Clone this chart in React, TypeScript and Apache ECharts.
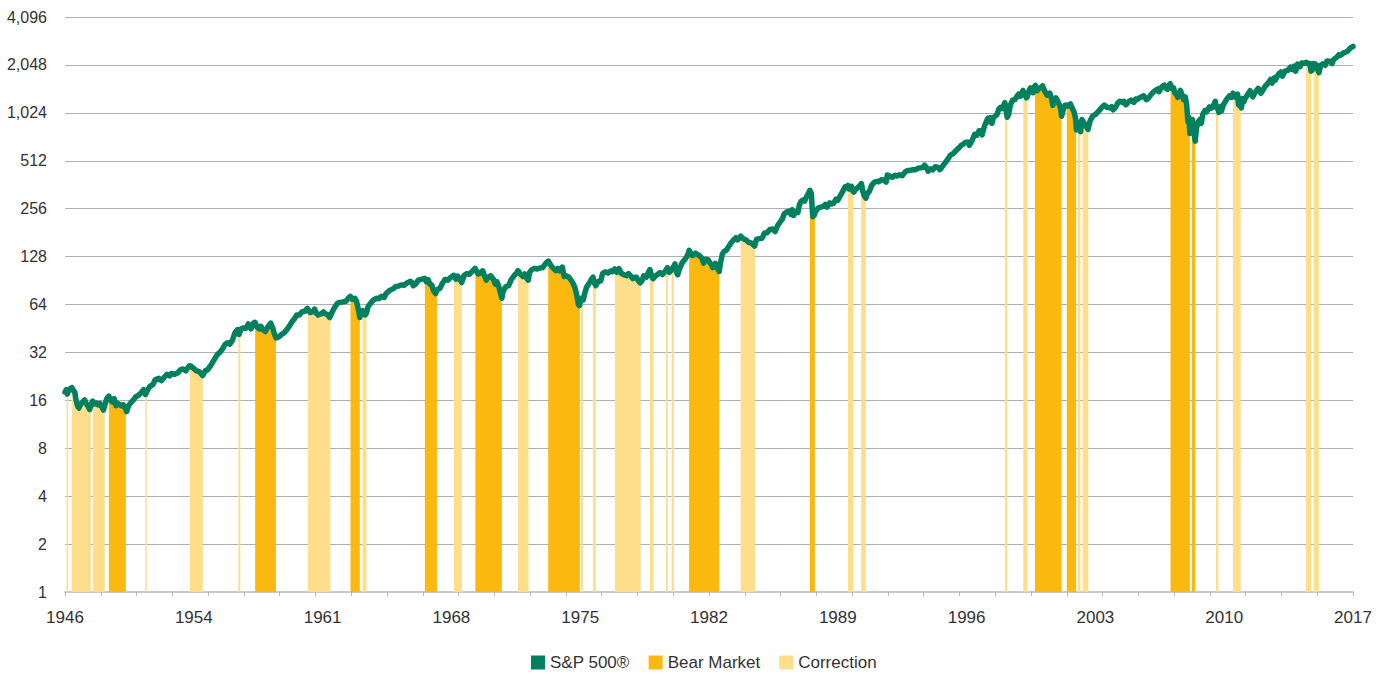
import React, { useEffect, useRef } from "react";
import * as echarts from "echarts";

// ---------- data ----------
const X0 = 1946; // x axis origin (years since)
const X_SPAN = 72;
const xLabels = ["1946", "1954", "1961", "1968", "1975", "1982", "1989", "1996", "2003", "2010", "2017"];
const yTicks = [1, 2, 4, 8, 16, 32, 64, 128, 256, 512, 1024, 2048, 4096];

// S&P 500 level: [decimal year, index value]
const sp500: [number, number][] = [
  [1946.0, 18.0], [1946.08, 18.7], [1946.13, 17.5], [1946.2, 18.4], [1946.3, 19.0], [1946.38, 19.25], [1946.45, 18.6], [1946.55, 18.0], [1946.62, 16.0], [1946.7, 14.8], [1946.78, 14.3], [1946.85, 15.0], [1946.92, 15.3],
  [1947.0, 15.7], [1947.1, 16.1], [1947.2, 15.2], [1947.3, 14.6], [1947.38, 14.0], [1947.45, 15.0], [1947.55, 15.8], [1947.65, 15.2], [1947.75, 15.4], [1947.85, 15.0], [1947.95, 15.3],
  [1948.05, 14.6], [1948.15, 13.9], [1948.25, 15.3], [1948.35, 16.5], [1948.45, 17.0], [1948.55, 16.0], [1948.65, 15.6], [1948.75, 16.4], [1948.85, 14.8], [1948.95, 15.3],
  [1949.05, 15.1], [1949.15, 14.8], [1949.25, 15.0], [1949.35, 14.4], [1949.45, 13.6], [1949.55, 14.8], [1949.65, 15.3], [1949.75, 15.8], [1949.85, 16.2], [1949.95, 16.8],
  [1950.1, 17.2], [1950.25, 17.8], [1950.4, 18.7], [1950.5, 17.4], [1950.6, 18.4], [1950.75, 19.6], [1950.9, 20.0],
  [1951.05, 21.6], [1951.25, 22.0], [1951.4, 21.3], [1951.55, 22.4], [1951.7, 23.3], [1951.85, 22.8], [1951.95, 23.6],
  [1952.1, 23.3], [1952.3, 23.8], [1952.45, 24.9], [1952.6, 25.2], [1952.75, 24.5], [1952.95, 26.4],
  [1953.05, 26.2], [1953.2, 25.3], [1953.35, 24.5], [1953.5, 24.2], [1953.7, 22.9], [1953.85, 24.6], [1953.95, 24.8],
  [1954.15, 26.5], [1954.3, 28.3], [1954.5, 30.9], [1954.65, 32.0], [1954.8, 33.6], [1954.95, 36.0],
  [1955.1, 36.8], [1955.2, 36.0], [1955.35, 38.0], [1955.5, 42.5], [1955.65, 44.5], [1955.73, 41.5], [1955.85, 45.0], [1955.95, 45.5],
  [1956.1, 45.3], [1956.25, 48.3], [1956.4, 45.0], [1956.55, 49.0], [1956.62, 49.5], [1956.75, 46.0], [1956.85, 45.0], [1956.95, 46.7],
  [1957.05, 44.5], [1957.2, 43.3], [1957.35, 46.5], [1957.5, 48.8], [1957.6, 46.0], [1957.7, 42.0], [1957.8, 39.5], [1957.95, 40.0],
  [1958.1, 41.5], [1958.25, 42.5], [1958.4, 44.5], [1958.55, 47.0], [1958.7, 50.0], [1958.85, 52.5], [1958.95, 55.0],
  [1959.1, 55.0], [1959.25, 57.5], [1959.4, 58.0], [1959.55, 60.5], [1959.7, 57.0], [1959.85, 57.5], [1959.95, 59.9],
  [1960.05, 56.5], [1960.15, 55.0], [1960.3, 55.8], [1960.45, 57.5], [1960.55, 56.0], [1960.65, 55.5], [1960.8, 53.0], [1960.95, 58.0],
  [1961.1, 62.0], [1961.25, 65.5], [1961.4, 66.0], [1961.55, 66.5], [1961.7, 67.0], [1961.85, 70.5], [1961.95, 72.0],
  [1962.05, 69.0], [1962.2, 70.0], [1962.3, 67.0], [1962.4, 59.5], [1962.48, 53.0], [1962.55, 58.0], [1962.65, 58.5], [1962.78, 55.0], [1962.85, 56.5], [1962.95, 62.5],
  [1963.1, 65.5], [1963.25, 68.5], [1963.4, 70.0], [1963.55, 69.5], [1963.7, 72.0], [1963.85, 71.0], [1963.95, 75.0],
  [1964.15, 78.5], [1964.35, 80.5], [1964.5, 83.0], [1964.65, 83.5], [1964.8, 85.0], [1964.95, 84.5],
  [1965.1, 87.0], [1965.3, 89.5], [1965.4, 88.0], [1965.47, 84.0], [1965.6, 86.0], [1965.75, 91.0], [1965.95, 92.5],
  [1966.1, 93.5], [1966.2, 89.0], [1966.3, 91.5], [1966.4, 86.0], [1966.5, 85.0], [1966.6, 78.0], [1966.72, 75.0], [1966.8, 79.5], [1966.95, 80.5],
  [1967.1, 87.0], [1967.25, 92.0], [1967.4, 91.0], [1967.55, 94.5], [1967.73, 97.5], [1967.85, 92.5], [1967.95, 96.5],
  [1968.05, 93.0], [1968.18, 88.0], [1968.3, 97.0], [1968.45, 100.0], [1968.6, 99.0], [1968.75, 103.0], [1968.92, 108.0],
  [1969.0, 104.0], [1969.1, 99.5], [1969.2, 100.5], [1969.35, 104.0], [1969.45, 97.0], [1969.55, 91.0], [1969.65, 95.0], [1969.8, 97.0], [1969.95, 92.0],
  [1970.05, 86.0], [1970.15, 89.0], [1970.25, 83.0], [1970.35, 75.0], [1970.42, 70.0], [1970.5, 78.0], [1970.65, 83.0], [1970.8, 84.0], [1970.95, 92.0],
  [1971.1, 97.0], [1971.25, 101.0], [1971.32, 104.5], [1971.45, 99.5], [1971.6, 96.0], [1971.7, 99.5], [1971.8, 94.0], [1971.9, 91.0], [1971.97, 102.0],
  [1972.1, 106.0], [1972.25, 108.0], [1972.4, 107.0], [1972.55, 108.5], [1972.7, 109.0], [1972.85, 115.0], [1972.95, 118.5],
  [1973.02, 120.0], [1973.15, 113.0], [1973.3, 108.0], [1973.45, 104.5], [1973.55, 108.0], [1973.65, 104.0], [1973.8, 110.0], [1973.9, 96.0], [1973.97, 97.5],
  [1974.1, 96.0], [1974.2, 94.0], [1974.3, 90.5], [1974.4, 87.0], [1974.5, 82.0], [1974.6, 74.0], [1974.7, 64.0], [1974.76, 63.0], [1974.85, 70.0], [1974.97, 68.5],
  [1975.05, 75.0], [1975.15, 82.0], [1975.3, 87.0], [1975.45, 93.0], [1975.52, 95.0], [1975.6, 87.0], [1975.67, 84.0], [1975.8, 89.0], [1975.95, 90.0],
  [1976.05, 100.0], [1976.2, 102.5], [1976.35, 101.0], [1976.5, 104.0], [1976.6, 103.0], [1976.73, 107.0], [1976.85, 102.0], [1976.97, 107.5],
  [1977.1, 100.5], [1977.25, 98.5], [1977.4, 97.0], [1977.5, 100.0], [1977.6, 97.5], [1977.75, 93.0], [1977.85, 95.0], [1977.95, 95.0],
  [1978.05, 90.0], [1978.15, 87.5], [1978.25, 90.0], [1978.35, 97.0], [1978.5, 95.0], [1978.65, 104.0], [1978.7, 106.0], [1978.8, 96.0], [1978.88, 93.0], [1978.97, 96.0],
  [1979.1, 98.5], [1979.25, 101.5], [1979.4, 99.0], [1979.55, 103.5], [1979.68, 109.0], [1979.78, 102.0], [1979.85, 104.0], [1979.95, 107.5],
  [1980.05, 112.0], [1980.1, 115.0], [1980.2, 101.0], [1980.25, 98.5], [1980.35, 107.0], [1980.5, 117.0], [1980.65, 123.0], [1980.8, 130.0], [1980.89, 140.0], [1980.97, 135.0],
  [1981.05, 130.0], [1981.15, 131.0], [1981.25, 134.5], [1981.35, 132.0], [1981.5, 129.0], [1981.6, 125.0], [1981.7, 116.5], [1981.8, 123.0], [1981.95, 122.5],
  [1982.05, 117.0], [1982.15, 113.0], [1982.2, 109.0], [1982.35, 116.0], [1982.45, 109.5], [1982.57, 103.0], [1982.65, 118.0], [1982.75, 133.0], [1982.85, 138.5], [1982.97, 140.5],
  [1983.1, 148.0], [1983.25, 157.0], [1983.4, 164.0], [1983.5, 168.0], [1983.6, 163.0], [1983.77, 172.0], [1983.9, 166.0], [1983.97, 165.0],
  [1984.1, 162.0], [1984.2, 157.5], [1984.35, 156.0], [1984.45, 153.0], [1984.55, 149.0], [1984.65, 164.0], [1984.8, 166.0], [1984.97, 167.0],
  [1985.1, 180.0], [1985.25, 180.5], [1985.4, 189.0], [1985.55, 191.0], [1985.7, 184.0], [1985.85, 202.0], [1985.97, 211.0],
  [1986.1, 220.0], [1986.2, 237.0], [1986.35, 244.0], [1986.5, 247.0], [1986.58, 236.0], [1986.65, 252.0], [1986.72, 232.0], [1986.85, 245.0], [1986.97, 242.0],
  [1987.05, 270.0], [1987.15, 285.0], [1987.25, 290.0], [1987.35, 286.0], [1987.45, 304.0], [1987.55, 318.0], [1987.64, 334.0], [1987.72, 318.0], [1987.8, 228.0], [1987.88, 232.0], [1987.95, 245.0],
  [1988.1, 258.0], [1988.25, 262.0], [1988.4, 265.0], [1988.5, 272.0], [1988.6, 262.0], [1988.75, 278.0], [1988.85, 274.0], [1988.97, 277.5],
  [1989.1, 294.0], [1989.2, 289.0], [1989.35, 310.0], [1989.5, 332.0], [1989.6, 351.0], [1989.7, 349.0], [1989.77, 358.0], [1989.82, 340.0], [1989.97, 353.0],
  [1990.05, 330.0], [1990.1, 325.0], [1990.2, 339.0], [1990.35, 350.0], [1990.45, 360.0], [1990.52, 368.0], [1990.6, 330.0], [1990.68, 308.0], [1990.77, 298.0], [1990.85, 318.0], [1990.97, 330.0],
  [1991.1, 360.0], [1991.25, 376.0], [1991.4, 380.0], [1991.5, 378.0], [1991.65, 390.0], [1991.8, 385.0], [1991.9, 376.0], [1991.97, 417.0],
  [1992.1, 410.0], [1992.25, 404.0], [1992.4, 415.0], [1992.5, 410.0], [1992.65, 418.0], [1992.8, 412.0], [1992.97, 436.0],
  [1993.1, 445.0], [1993.25, 445.0], [1993.4, 450.0], [1993.55, 450.0], [1993.7, 460.0], [1993.85, 463.0], [1993.97, 466.0],
  [1994.05, 480.0], [1994.15, 465.0], [1994.25, 440.0], [1994.4, 455.0], [1994.5, 448.0], [1994.65, 470.0], [1994.8, 465.0], [1994.9, 450.0], [1994.97, 459.0],
  [1995.1, 480.0], [1995.25, 505.0], [1995.4, 535.0], [1995.5, 556.0], [1995.6, 562.0], [1995.75, 582.0], [1995.85, 600.0], [1995.97, 616.0],
  [1996.1, 640.0], [1996.2, 650.0], [1996.35, 668.0], [1996.5, 670.0], [1996.55, 640.0], [1996.7, 685.0], [1996.85, 750.0], [1996.97, 740.0],
  [1997.1, 790.0], [1997.2, 790.0], [1997.27, 745.0], [1997.4, 848.0], [1997.5, 900.0], [1997.6, 950.0], [1997.65, 900.0], [1997.75, 955.0], [1997.82, 880.0], [1997.9, 960.0], [1997.97, 970.0],
  [1998.1, 1000.0], [1998.2, 1080.0], [1998.3, 1110.0], [1998.4, 1090.0], [1998.5, 1160.0], [1998.54, 1185.0], [1998.6, 1080.0], [1998.67, 960.0], [1998.75, 1000.0], [1998.85, 1150.0], [1998.97, 1229.0],
  [1999.1, 1240.0], [1999.2, 1290.0], [1999.3, 1340.0], [1999.4, 1300.0], [1999.5, 1380.0], [1999.55, 1415.0], [1999.65, 1330.0], [1999.75, 1270.0], [1999.8, 1300.0], [1999.9, 1420.0], [1999.97, 1469.0],
  [2000.05, 1440.0], [2000.12, 1370.0], [2000.2, 1500.0], [2000.25, 1520.0], [2000.35, 1410.0], [2000.45, 1460.0], [2000.55, 1480.0], [2000.65, 1510.0], [2000.72, 1440.0], [2000.8, 1380.0], [2000.9, 1320.0], [2000.97, 1330.0],
  [2001.05, 1360.0], [2001.15, 1260.0], [2001.22, 1140.0], [2001.3, 1220.0], [2001.4, 1270.0], [2001.5, 1210.0], [2001.6, 1140.0], [2001.66, 1080.0], [2001.71, 975.0], [2001.8, 1070.0], [2001.9, 1140.0], [2001.97, 1148.0],
  [2002.05, 1130.0], [2002.2, 1165.0], [2002.3, 1100.0], [2002.4, 1040.0], [2002.48, 960.0], [2002.54, 800.0], [2002.6, 900.0], [2002.68, 830.0], [2002.77, 780.0], [2002.85, 930.0], [2002.97, 880.0],
  [2003.05, 860.0], [2003.12, 830.0], [2003.19, 805.0], [2003.3, 910.0], [2003.45, 980.0], [2003.6, 1000.0], [2003.75, 1040.0], [2003.97, 1112.0],
  [2004.1, 1145.0], [2004.25, 1110.0], [2004.4, 1100.0], [2004.5, 1120.0], [2004.6, 1070.0], [2004.75, 1120.0], [2004.85, 1180.0], [2004.97, 1212.0],
  [2005.1, 1190.0], [2005.2, 1210.0], [2005.3, 1150.0], [2005.45, 1200.0], [2005.6, 1230.0], [2005.75, 1190.0], [2005.85, 1250.0], [2005.97, 1248.0],
  [2006.1, 1280.0], [2006.3, 1310.0], [2006.45, 1240.0], [2006.55, 1260.0], [2006.7, 1330.0], [2006.85, 1390.0], [2006.97, 1418.0],
  [2007.1, 1450.0], [2007.16, 1390.0], [2007.3, 1490.0], [2007.45, 1530.0], [2007.55, 1460.0], [2007.62, 1440.0], [2007.72, 1530.0], [2007.78, 1560.0], [2007.85, 1460.0], [2007.92, 1480.0], [2007.97, 1468.0],
  [2008.05, 1360.0], [2008.15, 1330.0], [2008.2, 1280.0], [2008.35, 1420.0], [2008.45, 1320.0], [2008.53, 1240.0], [2008.62, 1290.0], [2008.7, 1160.0], [2008.77, 900.0], [2008.83, 960.0], [2008.88, 760.0], [2008.95, 890.0],
  [2009.02, 930.0], [2009.08, 820.0], [2009.14, 740.0], [2009.18, 680.0], [2009.25, 820.0], [2009.35, 900.0], [2009.45, 930.0], [2009.52, 880.0], [2009.6, 1000.0], [2009.72, 1060.0], [2009.82, 1040.0], [2009.97, 1115.0],
  [2010.05, 1090.0], [2010.15, 1110.0], [2010.3, 1210.0], [2010.36, 1110.0], [2010.45, 1080.0], [2010.5, 1030.0], [2010.6, 1120.0], [2010.65, 1050.0], [2010.75, 1150.0], [2010.85, 1200.0], [2010.97, 1258.0],
  [2011.1, 1310.0], [2011.2, 1280.0], [2011.3, 1360.0], [2011.45, 1280.0], [2011.55, 1340.0], [2011.6, 1150.0], [2011.7, 1130.0], [2011.76, 1100.0], [2011.83, 1260.0], [2011.9, 1200.0], [2011.97, 1258.0],
  [2012.1, 1330.0], [2012.25, 1410.0], [2012.4, 1290.0], [2012.5, 1360.0], [2012.7, 1460.0], [2012.85, 1360.0], [2012.97, 1426.0],
  [2013.1, 1510.0], [2013.25, 1570.0], [2013.4, 1660.0], [2013.48, 1575.0], [2013.6, 1700.0], [2013.65, 1640.0], [2013.75, 1720.0], [2013.85, 1800.0], [2013.97, 1848.0],
  [2014.05, 1740.0], [2014.2, 1870.0], [2014.35, 1890.0], [2014.5, 1980.0], [2014.6, 1920.0], [2014.7, 2010.0], [2014.79, 1870.0], [2014.9, 2070.0], [2014.97, 2060.0],
  [2015.05, 2000.0], [2015.15, 2110.0], [2015.3, 2100.0], [2015.38, 2130.0], [2015.5, 2080.0], [2015.6, 2090.0], [2015.65, 1870.0], [2015.72, 1900.0], [2015.8, 2090.0], [2015.88, 2080.0], [2015.97, 2040.0],
  [2016.05, 1880.0], [2016.1, 1830.0], [2016.2, 2040.0], [2016.3, 2080.0], [2016.45, 2040.0], [2016.55, 2170.0], [2016.7, 2160.0], [2016.83, 2090.0], [2016.9, 2200.0], [2016.97, 2239.0],
  [2017.1, 2290.0], [2017.2, 2370.0], [2017.3, 2350.0], [2017.45, 2430.0], [2017.6, 2470.0], [2017.7, 2500.0], [2017.8, 2580.0], [2017.9, 2640.0], [2018.0, 2674.0],
];

// Bear market periods [start year, end year]
const bearMarkets: [number, number][] = [
  [1948.45, 1949.40], [1956.63, 1957.79], [1961.96, 1962.48], [1966.12, 1966.79],
  [1968.94, 1970.42], [1973.01, 1974.78], [1980.89, 1982.57], [1987.64, 1987.92],
  [2000.22, 2001.71], [2002.0, 2002.52], [2007.80, 2008.88], [2008.98, 2009.18],
];

// Correction periods [start year, end year]
const corrections: [number, number][] = [
  [1946.09, 1946.17], [1946.38, 1947.44], [1947.55, 1948.22], [1950.49, 1950.57],
  [1952.98, 1953.70], [1955.69, 1955.80], [1959.58, 1960.84], [1962.63, 1962.85],
  [1967.74, 1968.18], [1971.32, 1971.91], [1974.84, 1974.95], [1975.51, 1975.67],
  [1976.74, 1978.18], [1978.70, 1978.88], [1979.59, 1979.69], [1979.91, 1980.04],
  [1983.77, 1984.57], [1989.77, 1990.06], [1990.51, 1990.75], [1998.54, 1998.67],
  [1999.57, 1999.79], [2002.61, 2002.76], [2002.89, 2003.20], [2010.34, 2010.47],
  [2011.29, 2011.72], [2015.37, 2015.65], [2015.80, 2016.09],
];

// ---------- styles ----------
const GREEN = "#00805f";
const BEAR = "#fbb80f";
const CORR = "#fedd8b";
const TEXT = "#333333";
const FONT = "'Liberation Sans', Arial, Helvetica, sans-serif";

const lineData: [number, number][] = sp500.map(([t, v]) => [t - X0, v]);
const yExpMax = Math.log2(yTicks[yTicks.length - 1]);

function valueAt(t: number): number {
  if (t <= lineData[0][0]) return lineData[0][1];
  for (let i = 0; i < lineData.length - 1; i++) {
    const [t0, v0] = lineData[i];
    const [t1, v1] = lineData[i + 1];
    if (t >= t0 && t <= t1) {
      const f = (t - t0) / (t1 - t0);
      return Math.exp(Math.log(v0) + f * (Math.log(v1) - Math.log(v0)));
    }
  }
  return lineData[lineData.length - 1][1];
}

function bandSeries(name: string, periods: [number, number][], color: string) {
  return {
    name,
    type: "custom",
    coordinateSystem: "cartesian2d",
    xAxisIndex: 0,
    yAxisIndex: 0,
    z: 1,
    clip: true,
    itemStyle: { color },
    encode: { x: [0, 1], y: 2 },
    data: periods.map(([s, e]) => [s - X0, e - X0, 1]),
    renderItem: (params: any, api: any) => {
      const s = api.value(0);
      const e = api.value(1);
      const pts: number[][] = [];
      pts.push(api.coord([s, valueAt(s)]));
      for (const [t, v] of lineData) {
        if (t > s && t < e) pts.push(api.coord([t, v]));
      }
      pts.push(api.coord([e, valueAt(e)]));
      pts.push(api.coord([e, 1]));
      pts.push(api.coord([s, 1]));
      return {
        type: "polygon",
        shape: { points: pts },
        style: { fill: color, stroke: null },
      };
    },
  };
}

export default function App() {
  const ref = useRef<HTMLDivElement>(null);

  useEffect(() => {
    if (!ref.current) return;
    const chart = echarts.init(ref.current, undefined, { renderer: "svg" });
    const option: any = {
      animation: false,
      backgroundColor: "#ffffff",
      textStyle: { fontFamily: FONT },
      grid: { left: 65, right: 34, top: 17, bottom: 85, containLabel: false },
      legend: {
        left: 531,
        top: 654,
        padding: 0,
        icon: "rect",
        itemWidth: 14,
        itemHeight: 14,
        itemGap: 19,
        data: ["S&P 500®", "Bear Market", "Correction"],
        textStyle: { color: TEXT, fontSize: 17, fontFamily: FONT },
      },
      xAxis: [
        {
          type: "value",
          min: 0,
          max: X_SPAN,
          interval: X_SPAN / 10,
          axisLine: { show: true, lineStyle: { color: "#c6cacd", width: 2 } },
          axisTick: { show: false },
          splitLine: { show: false },
          axisLabel: {
            color: TEXT,
            fontSize: 17,
            fontFamily: FONT,
            margin: 17,
            showMinLabel: true,
            showMaxLabel: true,
            formatter: (v: number) => xLabels[Math.round(v / (X_SPAN / 10))] ?? "",
          },
        },
        {
          type: "value",
          min: 0,
          max: X_SPAN,
          interval: 2,
          position: "bottom",
          axisLine: { show: false },
          axisTick: { show: true, length: 4, lineStyle: { color: "#b5b9bd", width: 1 } },
          axisLabel: { show: false },
          splitLine: { show: false },
        },
      ],
      yAxis: [
        {
          // data axis (log base 2)
          type: "log",
          logBase: 2,
          min: yTicks[0],
          max: yTicks[yTicks.length - 1],
          axisLine: { show: false },
          axisTick: { show: false },
          splitLine: { show: false },
          axisLabel: { show: false },
        },
        {
          // label/grid axis: one step per doubling, aligned with the log axis
          type: "value",
          position: "left",
          min: 0,
          max: yExpMax,
          interval: 1,
          axisLine: { show: false },
          axisTick: { show: false },
          splitLine: { show: true, lineStyle: { color: "#abb0b5", width: 1 } },
          axisLabel: {
            color: TEXT,
            fontSize: 16,
            fontFamily: FONT,
            margin: 18,
            formatter: (v: number) => {
              const t = yTicks[Math.round(v)];
              return t == null ? "" : String(t).replace(/\B(?=(\d{3})+(?!\d))/g, ",");
            },
          },
        },
      ],
      series: [
        bandSeries("Correction", corrections, CORR),
        bandSeries("Bear Market", bearMarkets, BEAR),
        {
          name: "S&P 500®",
          type: "line",
          xAxisIndex: 0,
          yAxisIndex: 0,
          z: 5,
          showSymbol: false,
          symbol: "none",
          data: lineData,
          itemStyle: { color: GREEN },
          lineStyle: { color: GREEN, width: 5.5, cap: "round", join: "round" },
        },
      ],
    };
    chart.setOption(option);
    return () => chart.dispose();
  }, []);

  return (
    <div
      ref={ref}
      style={{ position: "absolute", left: 0, top: 0, width: 1387, height: 677, background: "#fff" }}
    />
  );
}
